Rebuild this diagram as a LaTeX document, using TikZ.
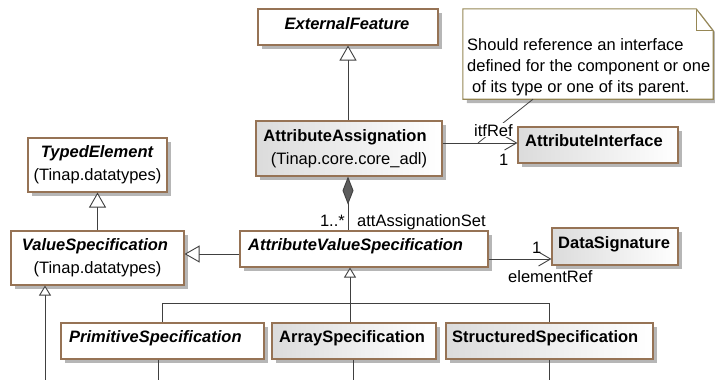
\documentclass[tikz,border=0pt]{standalone}
\usepackage{fontspec}
\setmainfont{Liberation Sans}
\usetikzlibrary{arrows.meta,shadows}
\definecolor{boxborder}{RGB}{150,115,85}
\definecolor{noteborder}{RGB}{150,135,85}
\definecolor{linecol}{RGB}{64,64,64}
\definecolor{shadowcol}{RGB}{182,182,182}
\newcommand\fsz{\fontsize{16.5}{19}\selectfont}
\begin{document}
\begin{tikzpicture}[x=1pt,y=-1pt,
  cls/.style={draw=boxborder, line width=1.1pt, fill=white, inner sep=0pt,
    drop shadow={shadow xshift=4pt, shadow yshift=-4pt, fill=shadowcol, opacity=1}},
  grad/.style={left color=black!14, right color=white},
  ttl/.style={font=\fsz\bfseries, inner sep=0pt},
  ttli/.style={font=\fsz\bfseries\itshape, inner sep=0pt},
  txt/.style={font=\fsz, inner sep=0pt},
  conn/.style={draw=linecol, line width=0.9pt},
  gen/.style={conn, -{Triangle[open, length=15pt, width=17pt, fill=white]}},
  gensmall/.style={conn, -{Triangle[open, length=10pt, width=12pt, fill=white]}},
  assoc/.style={conn, -{Straight Barb[length=12pt, width=14pt]}},
  comp/.style={conn, {Diamond[length=28pt, width=11pt, fill=linecol!85]}-},
]
\useasboundingbox (0,0) rectangle (715,380);

% note
\node[minimum width=250pt, minimum height=90pt, inner sep=0pt] (note) at (588,54) {};
\fill[shadowcol] ([shift={(4pt,-4pt)}]note.south west) -- ([shift={(4pt,-4pt)}]note.north west)
  -- ([shift={(-13pt,-4pt)}]note.north east) -- ([shift={(4pt,-26pt)}]note.north east)
  -- ([shift={(4pt,-4pt)}]note.south east) -- cycle;
\draw[noteborder, fill=white, line width=1.1pt] (note.south west) -- (note.north west)
  -- ([xshift=-17pt]note.north east) -- ([yshift=-22pt]note.north east) -- (note.south east) -- cycle;
\draw[noteborder, line width=1pt] ([xshift=-17pt]note.north east) -- ([xshift=-17pt,yshift=-22pt]note.north east)
  -- ([yshift=-22pt]note.north east);
\node[txt, anchor=base west] (n1) at (467,50) {Should reference an interface};
\node[txt, anchor=base west] (n2) at (467,71) {defined for the component or one};
\node[txt, anchor=base west] (n3) at (472,92) {of its type or one of its parent.};

% class boxes
\node[cls, minimum width=180pt, minimum height=36pt] (ef) at (348,27) {};
\node[ttli, anchor=base] (ef-t) at (347,29.5) {ExternalFeature};

\node[cls, grad, minimum width=186pt, minimum height=55pt] (aa) at (349,148.5) {};
\node[ttl, anchor=base] (aa-t) at (345,141) {AttributeAssignation};
\node[txt, anchor=base] (aa-p) at (349,164) {(Tinap.core.core\_adl)};

\node[cls, grad, minimum width=160pt, minimum height=36pt] (ai) at (598,145) {};
\node[ttl, anchor=base west] (ai-t) at (525,146) {AttributeInterface};

\node[cls, minimum width=139pt, minimum height=54pt] (te) at (97.5,165) {};
\node[ttli, anchor=base] (te-t) at (97,157) {TypedElement};
\node[txt, anchor=base] (te-p) at (97.5,180) {(Tinap.datatypes)};

\node[cls, minimum width=173pt, minimum height=54pt] (vs) at (97.5,258) {};
\node[ttli, anchor=base] (vs-t) at (95,250) {ValueSpecification};
\node[txt, anchor=base] (vs-p) at (97.5,273) {(Tinap.datatypes)};

\node[cls, minimum width=248pt, minimum height=36pt] (avs) at (364,249) {};
\node[ttli, anchor=base west] (avs-t) at (248,250) {AttributeValueSpecification};

\node[cls, grad, minimum width=126pt, minimum height=37pt] (ds) at (615,246.5) {};
\node[ttl, anchor=base west] (ds-t) at (558,248) {DataSignature};

\node[cls, minimum width=203pt, minimum height=36pt] (ps) at (162.5,341) {};
\node[ttli, anchor=base west] (ps-t) at (69,342) {PrimitiveSpecification};

\node[cls, grad, minimum width=164pt, minimum height=36pt] (as) at (354,341) {};
\node[ttl, anchor=base west] (as-t) at (279,342) {ArraySpecification};

\node[cls, grad, minimum width=207pt, minimum height=36pt] (ss) at (549.5,341) {};
\node[ttl, anchor=base west] (ss-t) at (452,342) {StructuredSpecification};

% connectors
\draw[gen] (aa.north -| ef.south) -- (ef.south);
\draw[gen] (vs.north) -- (te.south);
\draw[gen] ([yshift=-5pt]avs.west) -- ([yshift=-5pt]avs.west -| vs.east);
\draw[assoc] ([yshift=5.5pt]aa.east) -- ([yshift=5.5pt]aa.east -| ai.west);
\draw[comp] ([xshift=-1pt]aa.south) -- ([xshift=-1pt]aa.south |- avs.north);
\draw[assoc] ([yshift=-10pt]avs.east) -- ([yshift=-10pt]avs.east -| ds.west);

\coordinate (nc) at (478,143);
\draw[conn, line width=0.8pt] ([xshift=-55pt]note.south) -- (nc);

\coordinate (j) at (350,303);
\draw[gensmall] (j) -- (j |- avs.south);
\draw[conn] ([xshift=-0.5pt]ps.north) -- ([xshift=-0.5pt]ps.north |- j) -- ([xshift=-0.5pt]ss.north |- j) -- ([xshift=-0.5pt]ss.north);
\draw[conn] (as.north -| j) -- (j);

\coordinate (b1) at (45,382);
\coordinate (b2) at (158,382);
\coordinate (b3) at (353,382);
\coordinate (b4) at (549,382);
\draw[gensmall] (b1) -- (b1 |- vs.south);
\draw[conn] (b2 |- ps.south) -- (b2);
\draw[conn] (b3 |- as.south) -- (b3);
\draw[conn] (b4 |- ss.south) -- (b4);

% labels
\node[txt, anchor=base west, fill=white, inner sep=1pt] (l-itf) at (473,136) {itfRef};
\node[txt, anchor=base west] (l-one1) at (499,165) {1};
\node[txt, anchor=base east] (l-mult) at (345,226) {1..*};
\node[txt, anchor=base west] (l-att) at (357,226) {attAssignationSet};
\node[txt, anchor=base west] (l-one2) at (532,253) {1};
\node[txt, anchor=base west] (l-elem) at (508,282) {elementRef};
\end{tikzpicture}
\end{document}
